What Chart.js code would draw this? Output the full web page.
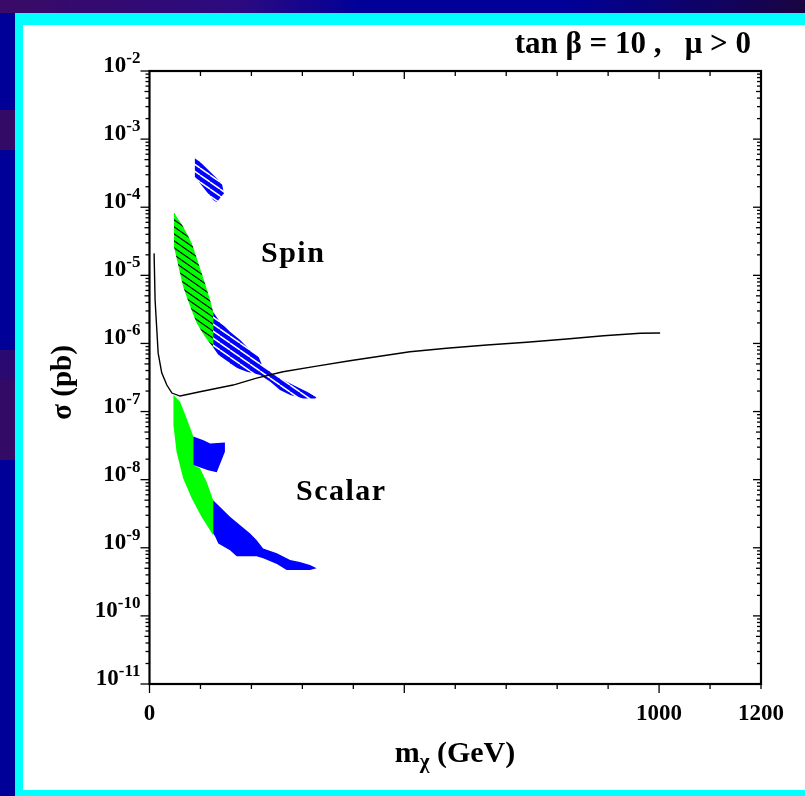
<!DOCTYPE html>
<html>
<head>
<meta charset="utf-8">
<script src="https://cdn.jsdelivr.net/npm/chart.js@4.4.1/dist/chart.umd.min.js"></script>
<style>
  html, body { margin: 0; padding: 0; width: 805px; height: 796px; overflow: hidden; background: #000099; }
  .strip-top { position: absolute; left: 0; top: 0; width: 805px; height: 13px;
    background: linear-gradient(90deg, #3a0a66 0%, #2b0a80 30%, #000099 45%, #000099 70%, #1a0440 100%); }
  .patch { position: absolute; left: 0; width: 15px; background: #330a66; }
  .frame { position: absolute; left: 15px; top: 13px; width: 790px; height: 783px; background: #00ffff; }
  .panel { position: absolute; left: 23px; top: 25px; width: 782px; height: 765px; background: #ffffff; }
  #chart { position: absolute; left: 0; top: 0; }
</style>
</head>
<body>
<div class="strip-top"></div>
<div class="patch" style="top:110px;height:40px"></div>
<div class="patch" style="top:350px;height:30px;background:#2a0a70"></div>
<div class="patch" style="top:380px;height:80px"></div>
<div class="frame"></div>
<div class="panel"></div>
<canvas id="chart" width="805" height="796"></canvas>
<script>
// axes
const xMin = 0, xMax = 1200;
const yMin = 1e-11, yMax = 1e-2;
const xTickValues = [0, 1000, 1200];
const xTickLabels = ['0', '1000', '1200'];
const xTickStep = 100;
const decadeExponents = [-2, -3, -4, -5, -6, -7, -8, -9, -10, -11];
const minorMultipliers = [2, 3, 4, 5, 6, 7, 8, 9];

// courbe noire (limite)
const curveMass = [9, 11, 14, 17, 24, 34, 44, 60, 99, 164, 210, 262, 328, 393, 452, 511, 583, 662, 740, 819, 891, 963, 1002];
const curveSigma = [2.1e-5, 4.3e-6, 1.76e-6, 7.2e-7, 3.7e-7, 2.45e-7, 1.87e-7, 1.69e-7, 1.95e-7, 2.45e-7, 3.1e-7, 3.84e-7,
  4.65e-7, 5.57e-7, 6.5e-7, 7.55e-7, 8.5e-7, 9.5e-7, 1.04e-6, 1.16e-6, 1.3e-6, 1.41e-6, 1.42e-6];

// Spin : petite zone bleue hachuree en haut
const spinTopMass = [89, 142, 146, 132, 125, 89];
const spinTopSigma = [5.5e-4, 2.24e-4, 1.6e-4, 1.18e-4, 1.28e-4, 2.8e-4];

// Spin : bande verte hachuree
const spinGreenMass = [48, 66, 83, 96, 109, 119, 125, 125, 109, 93, 80, 66, 57, 48];
const spinGreenSigma = [8.3e-5, 5.2e-5, 2.95e-5, 1.5e-5, 7.6e-6, 4.3e-6, 2.9e-6, 8.7e-7, 1.25e-6, 1.97e-6, 3.46e-6, 6.8e-6, 1.34e-5, 2.63e-5];

// Spin : bande bleue hachuree
const spinBlueMass = [125, 138, 158, 178, 197, 214, 221, 256, 282, 309, 328, 325, 302, 276, 256, 237, 217, 191, 165, 148, 135, 125];
const spinBlueSigma = [2.9e-6, 2.08e-6, 1.49e-6, 1.12e-6, 8.0e-7, 6.4e-7, 4.8e-7, 3.1e-7, 2.45e-7, 1.95e-7, 1.62e-7,
  1.56e-7, 1.56e-7, 1.75e-7, 2.07e-7, 2.74e-7, 3.44e-7, 3.84e-7, 4.55e-7, 5.7e-7, 6.8e-7, 8.7e-7];

// Scalar : bande verte
const scalarGreenMass = [47, 60, 73, 86, 86, 99, 112, 125, 125, 102, 83, 66, 53, 47];
const scalarGreenSigma = [1.75e-7, 1.39e-7, 7.9e-8, 4.3e-8, 1.64e-8, 1.47e-8, 9.3e-9, 5.0e-9, 1.53e-9, 2.85e-9, 5.3e-9, 1.05e-8, 2.57e-8, 6.3e-8];

// Scalar : petite zone bleue
const scalarPatchMass = [86, 106, 119, 148, 148, 132, 115, 86];
const scalarPatchSigma = [4.3e-8, 3.8e-8, 3.4e-8, 3.5e-8, 2.57e-8, 1.28e-8, 1.38e-8, 1.64e-8];

// Scalar : bande bleue du bas
const scalarBlueMass = [125, 138, 158, 178, 197, 210, 223, 250, 276, 295, 315, 328, 315, 269, 250, 223, 210, 171, 158, 135, 129, 125];
const scalarBlueSigma = [5.0e-9, 4.0e-9, 2.85e-9, 2.15e-9, 1.63e-9, 1.3e-9, 9.8e-10, 8.3e-10, 6.6e-10, 6.2e-10, 5.6e-10, 5.0e-10,
  4.7e-10, 4.7e-10, 5.8e-10, 7.0e-10, 7.5e-10, 7.5e-10, 9.2e-10, 1.16e-9, 1.45e-9, 1.63e-9];

const serif = '"Liberation Serif", "DejaVu Serif", serif';

function pts(xs, ys) {
    return xs.map((x, i) => ({ x: x, y: ys[i] }));
}

// motif de hachures diagonales
function hatch(bg, fg, lw) {
    const c = document.createElement('canvas');
    c.width = 10; c.height = 7;
    const g = c.getContext('2d');
    g.fillStyle = bg;
    g.fillRect(0, 0, 10, 7);
    g.strokeStyle = fg;
    g.lineWidth = lw;
    for (let k = -1; k <= 1; k++) {
        g.beginPath();
        g.moveTo(0, 7 * k);
        g.lineTo(10, 7 + 7 * k);
        g.stroke();
    }
    return g.createPattern(c, 'repeat');
}

function region(label, xs, ys, fillStyle, order) {
    return {
        label: label,
        data: pts(xs, ys),
        fill: 'shape',
        backgroundColor: fillStyle,
        borderColor: 'rgba(0,0,0,0)',
        borderWidth: 0,
        pointRadius: 0,
        tension: 0,
        order: order
    };
}

function txt(ctx, s, x, y, size, align) {
    ctx.font = 'bold ' + size + 'px ' + serif;
    ctx.textAlign = align || 'left';
    ctx.textBaseline = 'alphabetic';
    ctx.fillText(s, x, y);
}

function width(ctx, s, size) {
    ctx.font = 'bold ' + size + 'px ' + serif;
    return ctx.measureText(s).width;
}

// cadre, graduations et textes
const decorations = {
    id: 'decorations',
    afterDraw(chart) {
        const ctx = chart.ctx;
        const area = chart.chartArea;
        const xs = chart.scales.x, ys = chart.scales.y;
        ctx.save();
        ctx.fillStyle = '#000';
        ctx.strokeStyle = '#000';

        function seg(x1, y1, x2, y2) {
            ctx.beginPath();
            ctx.moveTo(x1, y1);
            ctx.lineTo(x2, y2);
            ctx.stroke();
        }

        // graduations verticales (log)
        ctx.lineWidth = 1.3;
        decadeExponents.forEach(e => {
            const py = ys.getPixelForValue(Math.pow(10, e));
            seg(area.left - 9, py, area.left, py);
            seg(area.right, py, area.right - 8, py);
            if (e === decadeExponents[0]) return;
            minorMultipliers.forEach(m => {
                const pm = ys.getPixelForValue(m * Math.pow(10, e));
                const len = m === 5 ? 5 : 4;
                seg(area.left - len, pm, area.left, pm);
                seg(area.right, pm, area.right - len, pm);
            });
        });

        // graduations horizontales
        for (let v = xMin; v <= xMax; v += xTickStep) {
            const px = xs.getPixelForValue(v);
            const major = v % 500 === 0;
            seg(px, area.bottom, px, area.bottom + (major ? 9 : 5));
            if (v > xMin && v < xMax) seg(px, area.top, px, area.top + (major ? 8 : 5));
        }

        // cadre
        ctx.lineWidth = 2.2;
        ctx.strokeRect(area.left, area.top, area.right - area.left, area.bottom - area.top);

        // etiquettes de l'axe y : 10^n
        decadeExponents.forEach(e => {
            const py = ys.getPixelForValue(Math.pow(10, e));
            const sup = '-' + Math.abs(e);
            const wb = width(ctx, '10', 23);
            const ws = width(ctx, sup, 17);
            const right = area.left - 9;
            txt(ctx, '10', right - ws - wb, py + 1, 23);
            txt(ctx, sup, right - ws, py - 8, 17);
        });

        // etiquettes de l'axe x
        xTickValues.forEach((v, i) => {
            txt(ctx, xTickLabels[i], xs.getPixelForValue(v), area.bottom + 36, 23, 'center');
        });

        // titre
        txt(ctx, 'tan \u03B2 = 10 ,   \u03BC > 0', 751, 53, 31, 'right');

        // titre de l'axe y
        ctx.save();
        ctx.translate(71, (area.top + area.bottom) / 2 + 5);
        ctx.rotate(-Math.PI / 2);
        txt(ctx, '\u03C3 (pb)', 0, 0, 29, 'center');
        ctx.restore();

        // titre de l'axe x : m_chi (GeV)
        const wm = width(ctx, 'm', 30);
        const wc = width(ctx, '\u03C7', 21);
        const wg = width(ctx, ' (GeV)', 30);
        const cx = 455 - (wm + wc + wg) / 2;
        txt(ctx, 'm', cx, 762, 30);
        txt(ctx, '\u03C7', cx + wm, 768, 21);
        txt(ctx, ' (GeV)', cx + wm + wc, 762, 30);

        // noms des zones
        ctx.letterSpacing = '1.5px';
        txt(ctx, 'Spin', 261, 262, 30);
        txt(ctx, 'Scalar', 296, 500, 30);
        ctx.letterSpacing = '0px';

        ctx.restore();
    }
};

const ctx = document.getElementById('chart').getContext('2d');
const blueHatch = hatch('#0000ff', '#ffffff', 1.5);
const greenHatch = hatch('#00ff00', '#000000', 1.1);

new Chart(ctx, {
    type: 'line',
    data: {
        datasets: [
            {
                label: 'limite',
                data: pts(curveMass, curveSigma),
                borderColor: '#000000',
                borderWidth: 1.4,
                pointRadius: 0,
                fill: false,
                tension: 0,
                order: 0
            },
            region('spin haut', spinTopMass, spinTopSigma, blueHatch, 1),
            region('spin bleu', spinBlueMass, spinBlueSigma, blueHatch, 1),
            region('scalar patch', scalarPatchMass, scalarPatchSigma, '#0000ff', 1),
            region('scalar bleu', scalarBlueMass, scalarBlueSigma, '#0000ff', 1),
            region('spin vert', spinGreenMass, spinGreenSigma, greenHatch, 2),
            region('scalar vert', scalarGreenMass, scalarGreenSigma, '#00ff00', 2)
        ]
    },
    options: {
        responsive: false,
        animation: false,
        layout: { padding: { left: 149.5, top: 71, right: 44, bottom: 112 } },
        plugins: {
            legend: { display: false },
            tooltip: { enabled: false }
        },
        scales: {
            x: { type: 'linear', min: xMin, max: xMax, display: false },
            y: { type: 'logarithmic', min: yMin, max: yMax, display: false }
        }
    },
    plugins: [decorations]
});
</script>
</body>
</html>
